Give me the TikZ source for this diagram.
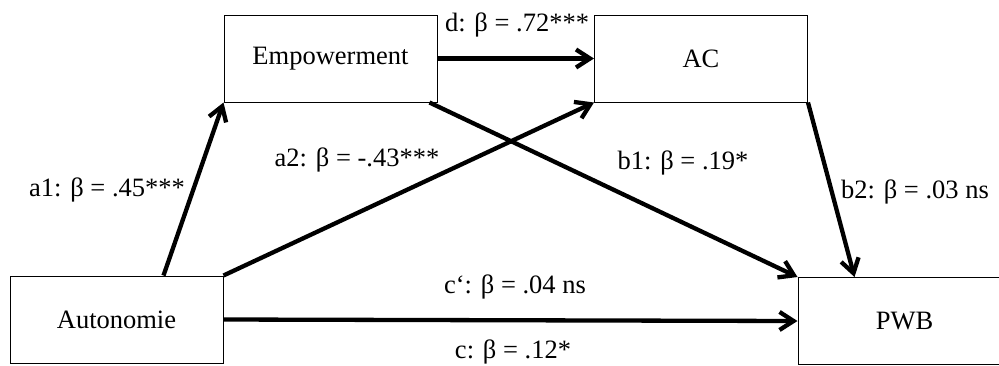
\documentclass[tikz,border=0pt]{standalone}
\usepackage{fontspec}
\setmainfont{Liberation Serif}
\usetikzlibrary{arrows.meta,calc}
\begin{document}
\begin{tikzpicture}[x=1pt,y=-1pt,
  box/.style={draw,line width=1pt,minimum width=213pt,minimum height=87pt,inner sep=0pt,font=\fontsize{26.5}{30}\selectfont},
  lbl/.style={inner sep=0pt,font=\fontsize{26.5}{30}\selectfont},
  arr/.style={line width=4.3pt,-{Straight Barb[length=14pt,width=18pt]}}]
\useasboundingbox (0,0) rectangle (999,365);
\begin{scope}
\clip (0,0) rectangle (999,365);
\node[box] (emp) at (330.5,58.5) {Empowerment};
\node[box] (ac) at (701,58.5) {AC};
\node[box] (aut) at (116.5,319.5) {Autonomie};
\node[box] (pwb) at (904.5,321) {PWB};
\coordinate (a1s) at ($(aut.north west)+(154,0)$);
\coordinate (b1s) at ($(emp.south east)+(-8,0)$);
\coordinate (b2e) at ($(pwb.north west)+(57,0)$);
\draw[arr] (a1s) -- (emp.south west);
\draw[arr] (aut.north east) -- (ac.south west);
\draw[arr] (emp.east) -- (ac.west);
\draw[arr] (b1s) -- (pwb.north west);
\draw[arr] (ac.south east) -- (b2e);
\draw[arr] (aut.east) -- (pwb.west);
\node[lbl] (ld) at (517,25) {d: β = .72***};
\node[lbl] (la1) at (107,190) {a1: β = .45***};
\node[lbl] (la2) at (357,160) {a2: β = -.43***};
\node[lbl] (lb1) at (683,163) {b1: β = .19*};
\node[lbl] (lb2) at (915,192) {b2: β = .03 ns};
\node[lbl] (lcp) at (515,287) {c‘: β = .04 ns};
\node[lbl] (lc) at (513,352) {c: β = .12*};
\end{scope}
\end{tikzpicture}
\end{document}
